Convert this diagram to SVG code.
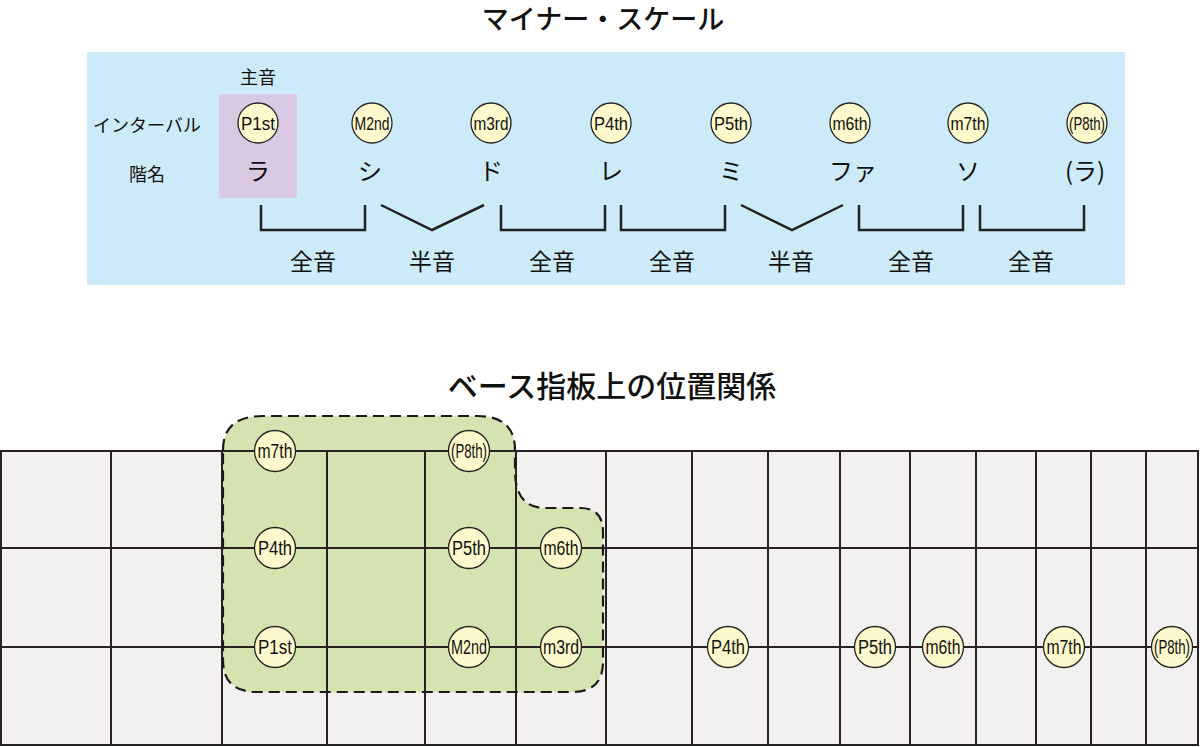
<svg xmlns="http://www.w3.org/2000/svg" width="1200" height="747" viewBox="0 0 1200 747">
<style>
.title{font-family:"Noto Sans CJK JP","Noto Sans",sans-serif;font-weight:500;fill:#111;text-anchor:middle}
.jp{font-family:"Noto Sans CJK JP","Noto Sans",sans-serif;fill:#111;text-anchor:middle}
.lbl{font-size:18px}
.name{font-size:24px}
.step{font-size:23px}
.iv{fill:#fdf9cc;stroke:#222;stroke-width:1.3}
.ivt{font-family:"Liberation Sans Narrow","Liberation Sans",Arial,sans-serif;font-size:19px;fill:#111;text-anchor:middle}
.fvt{font-family:"Liberation Sans Narrow","Liberation Sans",Arial,sans-serif;font-size:20px;fill:#111;text-anchor:middle}
.grid{stroke:#2a2222;stroke-width:2;fill:none}
.br{stroke:#222;stroke-width:2.5;fill:none}
</style>
<rect width="1200" height="747" fill="#ffffff"/>
<text class="title" x="603" y="29" font-size="27">マイナー・スケール</text>
<g id="scale-panel">
<rect x="87" y="52" width="1038" height="233" fill="#cdeaf9"/>
<rect x="219" y="94" width="78" height="104" fill="#d9c9e2"/>
<text class="jp lbl" x="258" y="84">主音</text>
<text class="jp lbl" x="147" y="132">インターバル</text>
<text class="jp lbl" x="147" y="181">階名</text>
</g>
<g id="n-p1st"><circle class="iv" cx="258" cy="123" r="20"/><text class="ivt" x="258" y="130" textLength="34" lengthAdjust="spacingAndGlyphs">P1st</text><text class="jp name" x="258" y="180">ラ</text></g>
<g id="n-m2nd"><circle class="iv" cx="372" cy="123" r="20"/><text class="ivt" x="372" y="130" textLength="35" lengthAdjust="spacingAndGlyphs">M2nd</text><text class="jp name" x="370" y="180">シ</text></g>
<g id="n-m3rd"><circle class="iv" cx="491" cy="123" r="20"/><text class="ivt" x="491" y="130" textLength="35" lengthAdjust="spacingAndGlyphs">m3rd</text><text class="jp name" x="491" y="180">ド</text></g>
<g id="n-p4th"><circle class="iv" cx="611" cy="123" r="20"/><text class="ivt" x="611" y="130" textLength="34" lengthAdjust="spacingAndGlyphs">P4th</text><text class="jp name" x="611" y="180">レ</text></g>
<g id="n-p5th"><circle class="iv" cx="731" cy="123" r="20"/><text class="ivt" x="731" y="130" textLength="34" lengthAdjust="spacingAndGlyphs">P5th</text><text class="jp name" x="731" y="180">ミ</text></g>
<g id="n-m6th"><circle class="iv" cx="850" cy="123" r="20"/><text class="ivt" x="850" y="130" textLength="35" lengthAdjust="spacingAndGlyphs">m6th</text><text class="jp name" x="853" y="180">ファ</text></g>
<g id="n-m7th"><circle class="iv" cx="968" cy="123" r="20"/><text class="ivt" x="968" y="130" textLength="35" lengthAdjust="spacingAndGlyphs">m7th</text><text class="jp name" x="968" y="180">ソ</text></g>
<g id="n-p8th"><circle class="iv" cx="1087" cy="123" r="20"/><text class="ivt" x="1087" y="130" textLength="36" lengthAdjust="spacingAndGlyphs">(P8th)</text><text class="jp name" x="1085" y="180">(ラ)</text></g>
<g id="connectors">
<path class="br" d="M261 205V230H365V205"/>
<path class="br" d="M381 205L432 230L484 205"/>
<path class="br" d="M501 205V230H605V205"/>
<path class="br" d="M621 205V230H725V205"/>
<path class="br" d="M741 205L792 230L843 205"/>
<path class="br" d="M859 205V230H963V205"/>
<path class="br" d="M980 205V230H1084V205"/>
</g>
<g id="step-labels">
<text class="jp step" x="313" y="270">全音</text>
<text class="jp step" x="432" y="270">半音</text>
<text class="jp step" x="552" y="270">全音</text>
<text class="jp step" x="672" y="270">全音</text>
<text class="jp step" x="791" y="270">半音</text>
<text class="jp step" x="911" y="270">全音</text>
<text class="jp step" x="1031" y="270">全音</text>
</g>
<text class="title" x="612" y="397" font-size="30">ベース指板上の位置関係</text>
<g id="fretboard">
<rect x="1" y="451" width="1197" height="294" fill="#f2f1f0"/>
<path id="position-box" d="M223 450Q223 416 263 416H477Q515 416 515 450V470Q515 508 545 508H580Q603 508 603 532V662Q603 692 572 692H257Q223 692 223 660Z" fill="#d5e3b0"/>
<g class="grid">
<rect x="1" y="451" width="1197" height="294"/>
<path d="M1 548H1198M1 647H1198"/>
<path d="M111 451V745M222 451V745M327 451V745M425 451V745M516 451V745M606 451V745M692 451V745M768 451V745M840 451V745M910 451V745M976 451V745M1036 451V745M1091 451V745M1146 451V745"/>
</g>
<path d="M223 450Q223 416 263 416H477Q515 416 515 450V470Q515 508 545 508H580Q603 508 603 532V662Q603 692 572 692H257Q223 692 223 660Z" fill="none" stroke="#1a1a1a" stroke-width="2.2" stroke-dasharray="11 6"/>
</g>
<g id="f-m7th-a"><circle class="iv" cx="275" cy="451" r="20.5"/><text class="fvt" x="275" y="458" textLength="35" lengthAdjust="spacingAndGlyphs">m7th</text></g>
<g id="f-p8th-a"><circle class="iv" cx="469" cy="451" r="20.5"/><text class="fvt" x="469" y="458" textLength="36" lengthAdjust="spacingAndGlyphs">(P8th)</text></g>
<g id="f-p4th-a"><circle class="iv" cx="275" cy="548" r="20.5"/><text class="fvt" x="275" y="555" textLength="34" lengthAdjust="spacingAndGlyphs">P4th</text></g>
<g id="f-p5th-a"><circle class="iv" cx="469" cy="548" r="20.5"/><text class="fvt" x="469" y="555" textLength="34" lengthAdjust="spacingAndGlyphs">P5th</text></g>
<g id="f-m6th-a"><circle class="iv" cx="561" cy="548" r="20.5"/><text class="fvt" x="561" y="555" textLength="35" lengthAdjust="spacingAndGlyphs">m6th</text></g>
<g id="f-p1st"><circle class="iv" cx="275" cy="647" r="20.5"/><text class="fvt" x="275" y="654" textLength="34" lengthAdjust="spacingAndGlyphs">P1st</text></g>
<g id="f-m2nd"><circle class="iv" cx="469" cy="647" r="20.5"/><text class="fvt" x="469" y="654" textLength="36" lengthAdjust="spacingAndGlyphs">M2nd</text></g>
<g id="f-m3rd"><circle class="iv" cx="561" cy="647" r="20.5"/><text class="fvt" x="561" y="654" textLength="36" lengthAdjust="spacingAndGlyphs">m3rd</text></g>
<g id="f-p4th-b"><circle class="iv" cx="728" cy="647" r="20.5"/><text class="fvt" x="728" y="654" textLength="34" lengthAdjust="spacingAndGlyphs">P4th</text></g>
<g id="f-p5th-b"><circle class="iv" cx="875" cy="647" r="20.5"/><text class="fvt" x="875" y="654" textLength="34" lengthAdjust="spacingAndGlyphs">P5th</text></g>
<g id="f-m6th-b"><circle class="iv" cx="943" cy="647" r="20.5"/><text class="fvt" x="943" y="654" textLength="35" lengthAdjust="spacingAndGlyphs">m6th</text></g>
<g id="f-m7th-b"><circle class="iv" cx="1064" cy="647" r="20.5"/><text class="fvt" x="1064" y="654" textLength="35" lengthAdjust="spacingAndGlyphs">m7th</text></g>
<g id="f-p8th-b"><circle class="iv" cx="1172" cy="647" r="20.5"/><text class="fvt" x="1172" y="654" textLength="36" lengthAdjust="spacingAndGlyphs">(P8th)</text></g>
</svg>
